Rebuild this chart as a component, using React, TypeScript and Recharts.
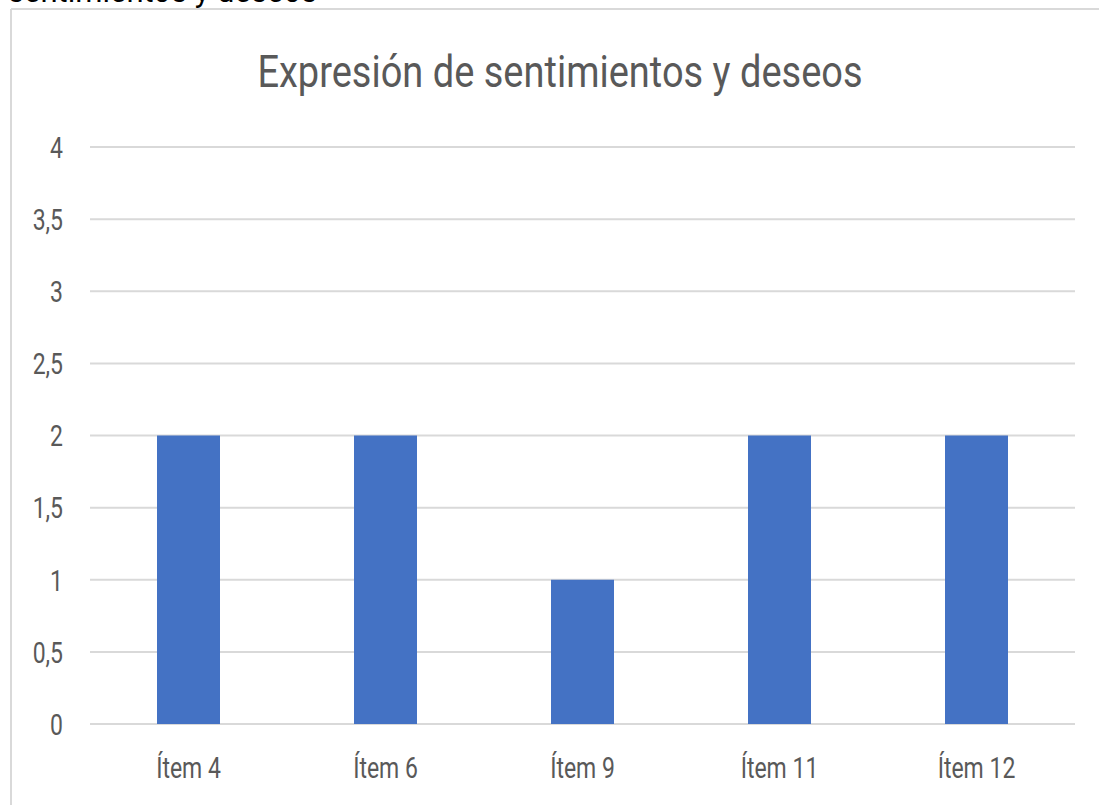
import { BarChart, Bar, XAxis, YAxis, CartesianGrid } from "recharts";

const categories = ["Ítem 4", "Ítem 6", "Ítem 9", "Ítem 11", "Ítem 12"];
const values = [2, 2, 1, 2, 2];
const yTicks = [0, 0.5, 1, 1.5, 2, 2.5, 3, 3.5, 4];

const TEXT = "#595959";
const GRID = "#d9d9d9";
const BAR = "#4472C4";
const FONT = "Roboto, 'Noto Sans', sans-serif";

const data = categories.map((name, i) => ({ name, value: values[i] }));

function YTick(props: any) {
  const { x, y, payload } = props;
  const label = String(payload.value).replace(".", ",");
  return (
    <g transform={`translate(${x - 27},${y})`}>
      <text
        x={0}
        y={0}
        dy="0.355em"
        textAnchor="end"
        transform="scale(1,1.32)"
        fill={TEXT}
        fontSize={23}
        fontFamily={FONT}
      >
        {label}
      </text>
    </g>
  );
}

function XTick(props: any) {
  const { x, y, payload } = props;
  return (
    <g transform={`translate(${x},${y})`}>
      <text
        x={0}
        y={41}
        textAnchor="middle"
        transform="scale(1,1.32)"
        fill={TEXT}
        fontSize={23}
        fontFamily={FONT}
      >
        {payload.value}
      </text>
    </g>
  );
}

export default function App() {
  return (
    <div
      style={{
        position: "absolute",
        left: 0,
        top: 0,
        width: 1099,
        height: 805,
        background: "#fff",
        overflow: "hidden",
      }}
    >
      <BarChart
        width={1099}
        height={805}
        data={data}
        margin={{ top: 147, right: 24, bottom: 51, left: 0 }}
        barSize={63}
      >
        <CartesianGrid vertical={false} stroke={GRID} strokeWidth={2} />
        <XAxis
          dataKey="name"
          height={30}
          axisLine={false}
          tickLine={false}
          tickSize={0}
          tickMargin={0}
          tick={<XTick />}
          interval={0}
        />
        <YAxis
          width={90}
          domain={[0, 4]}
          ticks={yTicks}
          axisLine={false}
          tickLine={false}
          tickSize={0}
          tickMargin={0}
          tick={<YTick />}
          interval={0}
        />
        <Bar dataKey="value" fill={BAR} isAnimationActive={false} />
      </BarChart>
      <svg
        width={1099}
        height={805}
        style={{ position: "absolute", left: 0, top: 0, pointerEvents: "none" }}
      >
        {/* caption above the chart, cut off by the top edge as in the source */}
        <text x={8} y={1.5} fontSize={31} fontFamily={FONT} fill="#000">
          sentimientos y deseos
        </text>
        <line x1={11} y1={9} x2={1099} y2={9} stroke={GRID} strokeWidth={2} />
        <line x1={11} y1={9} x2={11} y2={805} stroke={GRID} strokeWidth={2} />
        <g transform="translate(560,87)">
          <text
            x={0}
            y={0}
            textAnchor="middle"
            transform="scale(1,1.15)"
            fill={TEXT}
            fontSize={38}
            fontFamily={FONT}
          >
            Expresión de sentimientos y deseos
          </text>
        </g>
      </svg>
    </div>
  );
}
